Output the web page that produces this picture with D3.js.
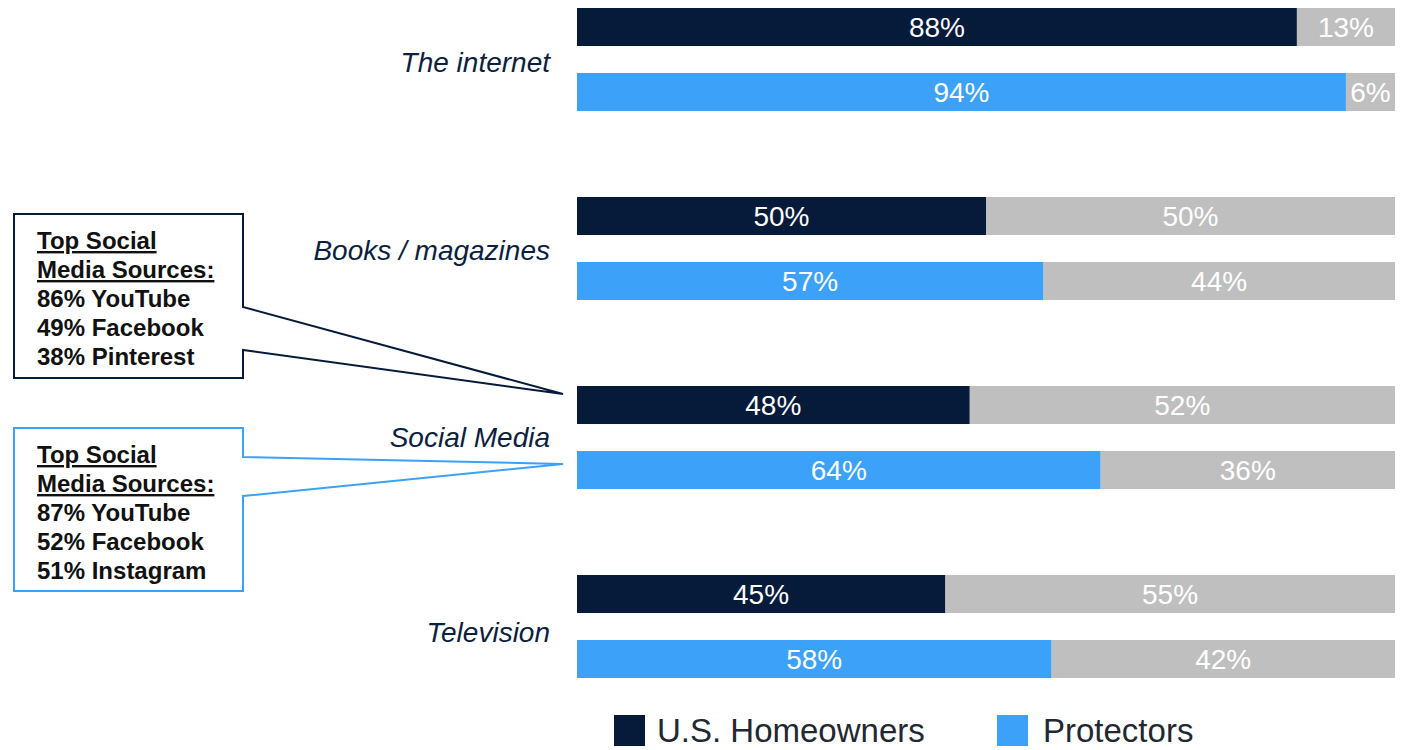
<!DOCTYPE html>
<html>
<head>
<meta charset="utf-8">
<script src="https://cdn.jsdelivr.net/npm/d3@7"></script>
<style>
  body { margin: 0; background: #fff; }
  text { font-family: "Liberation Sans", Arial, sans-serif; }
</style>
</head>
<body>
<div id="chart"></div>
<script>
var width = 1412,
	height = 750;

// data
var categories = ["The internet", "Books / magazines", "Social Media", "Television"];
var series = ["U.S. Homeowners", "Protectors"];
var homeowners = [88, 50, 48, 45];
var homeownersRest = [13, 50, 52, 55];
var protectors = [94, 57, 64, 58];
var protectorsRest = [6, 44, 36, 42];
var calloutHome = ["86% YouTube", "49% Facebook", "38% Pinterest"];
var calloutProt = ["87% YouTube", "52% Facebook", "51% Instagram"];

// colors
var navy = "#061a3a",
	blue = "#3ca1f9",
	grey = "#bfbfbf";

var svg = d3.select("#chart")
	.append("svg")
	.attr("width", width)
	.attr("height", height);

var x = d3.scaleLinear()
	.domain([0, 100])
	.range([577, 1395])
	.clamp(true);

var y = d3.scaleBand()
	.domain(categories)
	.range([8, 8 + 4 * 189]);

var inner = d3.scaleBand()
	.domain(series)
	.range([0, 103])
	.paddingInner(0.415);

// rows: one per category and series
var rows = [];
categories.forEach(function(c, i) {
	rows.push({cat: c, s: series[0], v: homeowners[i], rest: homeownersRest[i], color: navy});
	rows.push({cat: c, s: series[1], v: protectors[i], rest: protectorsRest[i], color: blue});
});

var g = svg.append("g");

var row = g.selectAll("g.row")
	.data(rows)
	.enter()
	.append("g")
	.attr("class", "row")
	.attr("transform", function(d) { return "translate(0," + (y(d.cat) + inner(d.s)) + ")"; });

row.append("rect")
	.attr("x", function(d) { return x(d.v); })
	.attr("width", function(d) { return x(d.v + d.rest) - x(d.v); })
	.attr("height", inner.bandwidth())
	.attr("fill", grey);

row.append("rect")
	.attr("x", x(0))
	.attr("width", function(d) { return x(d.v) - x(0); })
	.attr("height", inner.bandwidth())
	.attr("fill", function(d) { return d.color; });

row.append("text")
	.attr("x", function(d) { return (x(0) + x(d.v)) / 2; })
	.attr("y", inner.bandwidth() / 2)
	.attr("dy", "0.36em")
	.attr("text-anchor", "middle")
	.attr("fill", "#fff")
	.style("font-size", "28px")
	.text(function(d) { return d.v + "%"; });

row.append("text")
	.attr("x", function(d) { return (x(d.v) + x(d.v + d.rest)) / 2; })
	.attr("y", inner.bandwidth() / 2)
	.attr("dy", "0.36em")
	.attr("text-anchor", "middle")
	.attr("fill", "#fff")
	.style("font-size", "28px")
	.text(function(d) { return d.rest + "%"; });

// category labels
g.selectAll("text.cat")
	.data(categories)
	.enter()
	.append("text")
	.attr("class", "cat")
	.attr("x", 550)
	.attr("y", function(d, i) { return y(d) + 103 / 2 + [2, 1, -1, 5][i]; })
	.attr("dy", "0.36em")
	.attr("text-anchor", "end")
	.attr("fill", "#0d1f3f")
	.style("font-size", "28px")
	.style("font-style", "italic")
	.text(function(d) { return d; });

// callouts pointing at Social Media bars
function callout(top, bottom, p1, p2, tip, color, lines) {
	var path = d3.path();
	path.moveTo(14, top);
	path.lineTo(243, top);
	path.lineTo(243, p1);
	path.lineTo(tip[0], tip[1]);
	path.lineTo(243, p2);
	path.lineTo(243, bottom);
	path.lineTo(14, bottom);
	path.closePath();
	svg.append("path")
		.attr("d", path.toString())
		.attr("fill", "#fff")
		.attr("stroke", color)
		.attr("stroke-width", 2);

	var t = ["Top Social", "Media Sources:"].concat(lines);
	svg.selectAll(null)
		.data(t)
		.enter()
		.append("text")
		.attr("x", 37)
		.attr("y", function(d, i) { return top + 35 + i * 29; })
		.attr("fill", "#111")
		.style("font-size", "24px")
		.style("font-weight", "bold")
		.style("text-decoration", function(d, i) { return i < 2 ? "underline" : "none"; })
		.text(function(d) { return d; });
}

var socialHome = y("Social Media") + inner(series[0]) + 8;
var socialProt = y("Social Media") + inner(series[1]) + inner.bandwidth() / 2 - 6;
callout(214, 378, 307, 350, [563, socialHome], navy, calloutHome);
callout(428, 591, 457, 496, [563, socialProt], blue, calloutProt);

// legend
var legend = svg.selectAll("g.legend")
	.data(series)
	.enter()
	.append("g")
	.attr("class", "legend")
	.attr("transform", function(d, i) { return "translate(" + [614, 997][i] + ",715)"; });

legend.append("rect")
	.attr("width", 31)
	.attr("height", 31)
	.attr("fill", function(d, i) { return [navy, blue][i]; });

legend.append("text")
	.attr("x", function(d, i) { return [43, 46][i]; })
	.attr("y", 27)
	.attr("fill", "#222831")
	.style("font-size", "33px")
	.text(function(d) { return d; });
</script>
</body>
</html>
